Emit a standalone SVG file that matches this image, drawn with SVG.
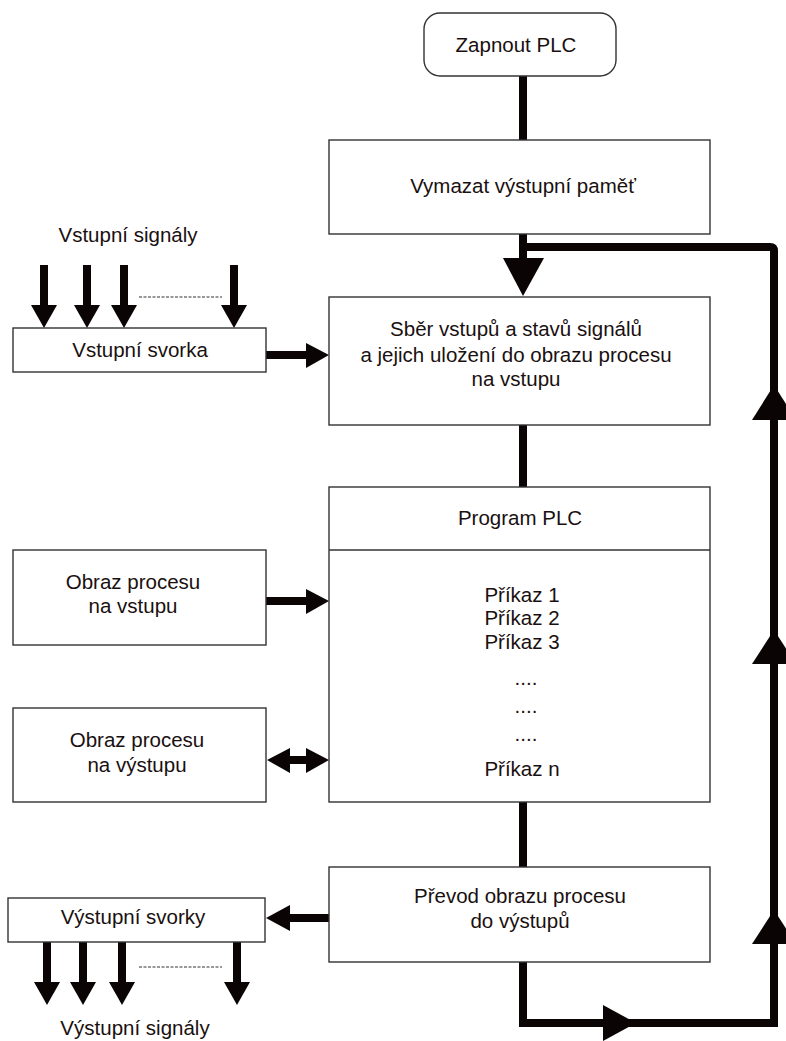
<svg xmlns="http://www.w3.org/2000/svg" width="786" height="1041" viewBox="0 0 786 1041">
<style>
.box{fill:#fff;stroke:#333;stroke-width:1.4}
.t{font-family:"Liberation Sans",Arial,sans-serif;font-size:20.5px;fill:#1a1010;text-anchor:middle}
.ln{fill:none;stroke:#0a0404;stroke-width:8}
.hd{fill:#0a0404}
.dash{stroke:#333;stroke-width:1.2;stroke-dasharray:3 1.5}
</style>
<rect width="786" height="1041" fill="#fff"/>
<g id="connectors">
<path class="ln" d="M523 76V140"/>
<path class="ln" d="M523 234V262"/>
<path class="ln" d="M523 247H770Q774 247 774 251V1023H523V962"/>
<polygon class="hd" points="503,258 544,258 523,296"/>
<polygon class="hd" points="752,420 796,420 774,385"/>
<polygon class="hd" points="752,664 796,664 774,630"/>
<polygon class="hd" points="752,944 796,944 774,910"/>
<polygon class="hd" points="603,1005 603,1041 636,1023"/>
<path class="ln" d="M523 425V487"/>
<path class="ln" d="M523 802V867"/>
<path class="ln" d="M266 355H310"/>
<polygon class="hd" points="306,343 306,368 329,355"/>
<path class="ln" d="M266 601H310"/>
<polygon class="hd" points="306,589 306,614 329,601"/>
<path class="ln" d="M285 760H310"/>
<polygon class="hd" points="306,748 306,773 329,760"/>
<polygon class="hd" points="290,748 290,773 267,760"/>
<path class="ln" d="M329 918H285"/>
<polygon class="hd" points="290,905 290,931 266,918"/>
<path class="ln" d="M44 265V308M87 265V308M124 265V308M234 265V308"/>
<polygon class="hd" points="31,305 57,305 44,328"/>
<polygon class="hd" points="74,305 100,305 87,328"/>
<polygon class="hd" points="111,305 137,305 124,328"/>
<polygon class="hd" points="221,305 247,305 234,328"/>
<line class="dash" x1="139" y1="297" x2="222" y2="297"/>
<path class="ln" d="M47 942V985M83 942V985M122 942V985M237 942V985"/>
<polygon class="hd" points="34,982 60,982 47,1005"/>
<polygon class="hd" points="70,982 96,982 83,1005"/>
<polygon class="hd" points="109,982 135,982 122,1005"/>
<polygon class="hd" points="224,982 250,982 237,1005"/>
<line class="dash" x1="139" y1="967" x2="222" y2="967"/>
</g>
<g id="start">
<rect class="box" x="424" y="13" width="192" height="63" rx="16"/>
<text class="t" x="516" y="52">Zapnout PLC</text>
</g>
<g id="clear">
<rect class="box" x="329" y="140" width="381" height="94"/>
<text class="t" x="523" y="193">Vymazat výstupní paměť</text>
</g>
<g id="read">
<rect class="box" x="329" y="297" width="381" height="128"/>
<text class="t" x="516" y="336">Sběr vstupů a stavů signálů</text>
<text class="t" x="516" y="362">a jejich uložení do obrazu procesu</text>
<text class="t" x="516" y="386">na vstupu</text>
</g>
<g id="program">
<rect class="box" x="329" y="487" width="381" height="315"/>
<line class="box" x1="329" y1="550" x2="710" y2="550"/>
<text class="t" x="520" y="525">Program PLC</text>
<text class="t" x="522" y="602">Příkaz 1</text>
<text class="t" x="522" y="625">Příkaz 2</text>
<text class="t" x="522" y="649">Příkaz 3</text>
<text class="t" x="526" y="685">....</text>
<text class="t" x="526" y="713">....</text>
<text class="t" x="526" y="741">....</text>
<text class="t" x="522" y="776">Příkaz n</text>
</g>
<g id="write">
<rect class="box" x="329" y="867" width="381" height="95"/>
<text class="t" x="520" y="903">Převod obrazu procesu</text>
<text class="t" x="520" y="928">do výstupů</text>
</g>
<g id="input-signals">
<text class="t" x="128" y="242">Vstupní signály</text>
</g>
<g id="input-terminal">
<rect class="box" x="13" y="328" width="253" height="44"/>
<text class="t" x="140" y="357">Vstupní svorka</text>
</g>
<g id="input-image">
<rect class="box" x="13" y="550" width="253" height="95"/>
<text class="t" x="133" y="589">Obraz procesu</text>
<text class="t" x="133" y="613">na vstupu</text>
</g>
<g id="output-image">
<rect class="box" x="13" y="708" width="253" height="94"/>
<text class="t" x="137" y="747">Obraz procesu</text>
<text class="t" x="137" y="772">na výstupu</text>
</g>
<g id="output-terminal">
<rect class="box" x="8" y="898" width="257" height="44"/>
<text class="t" x="133" y="924">Výstupní svorky</text>
</g>
<g id="output-signals">
<text class="t" x="135" y="1035">Výstupní signály</text>
</g>
</svg>
